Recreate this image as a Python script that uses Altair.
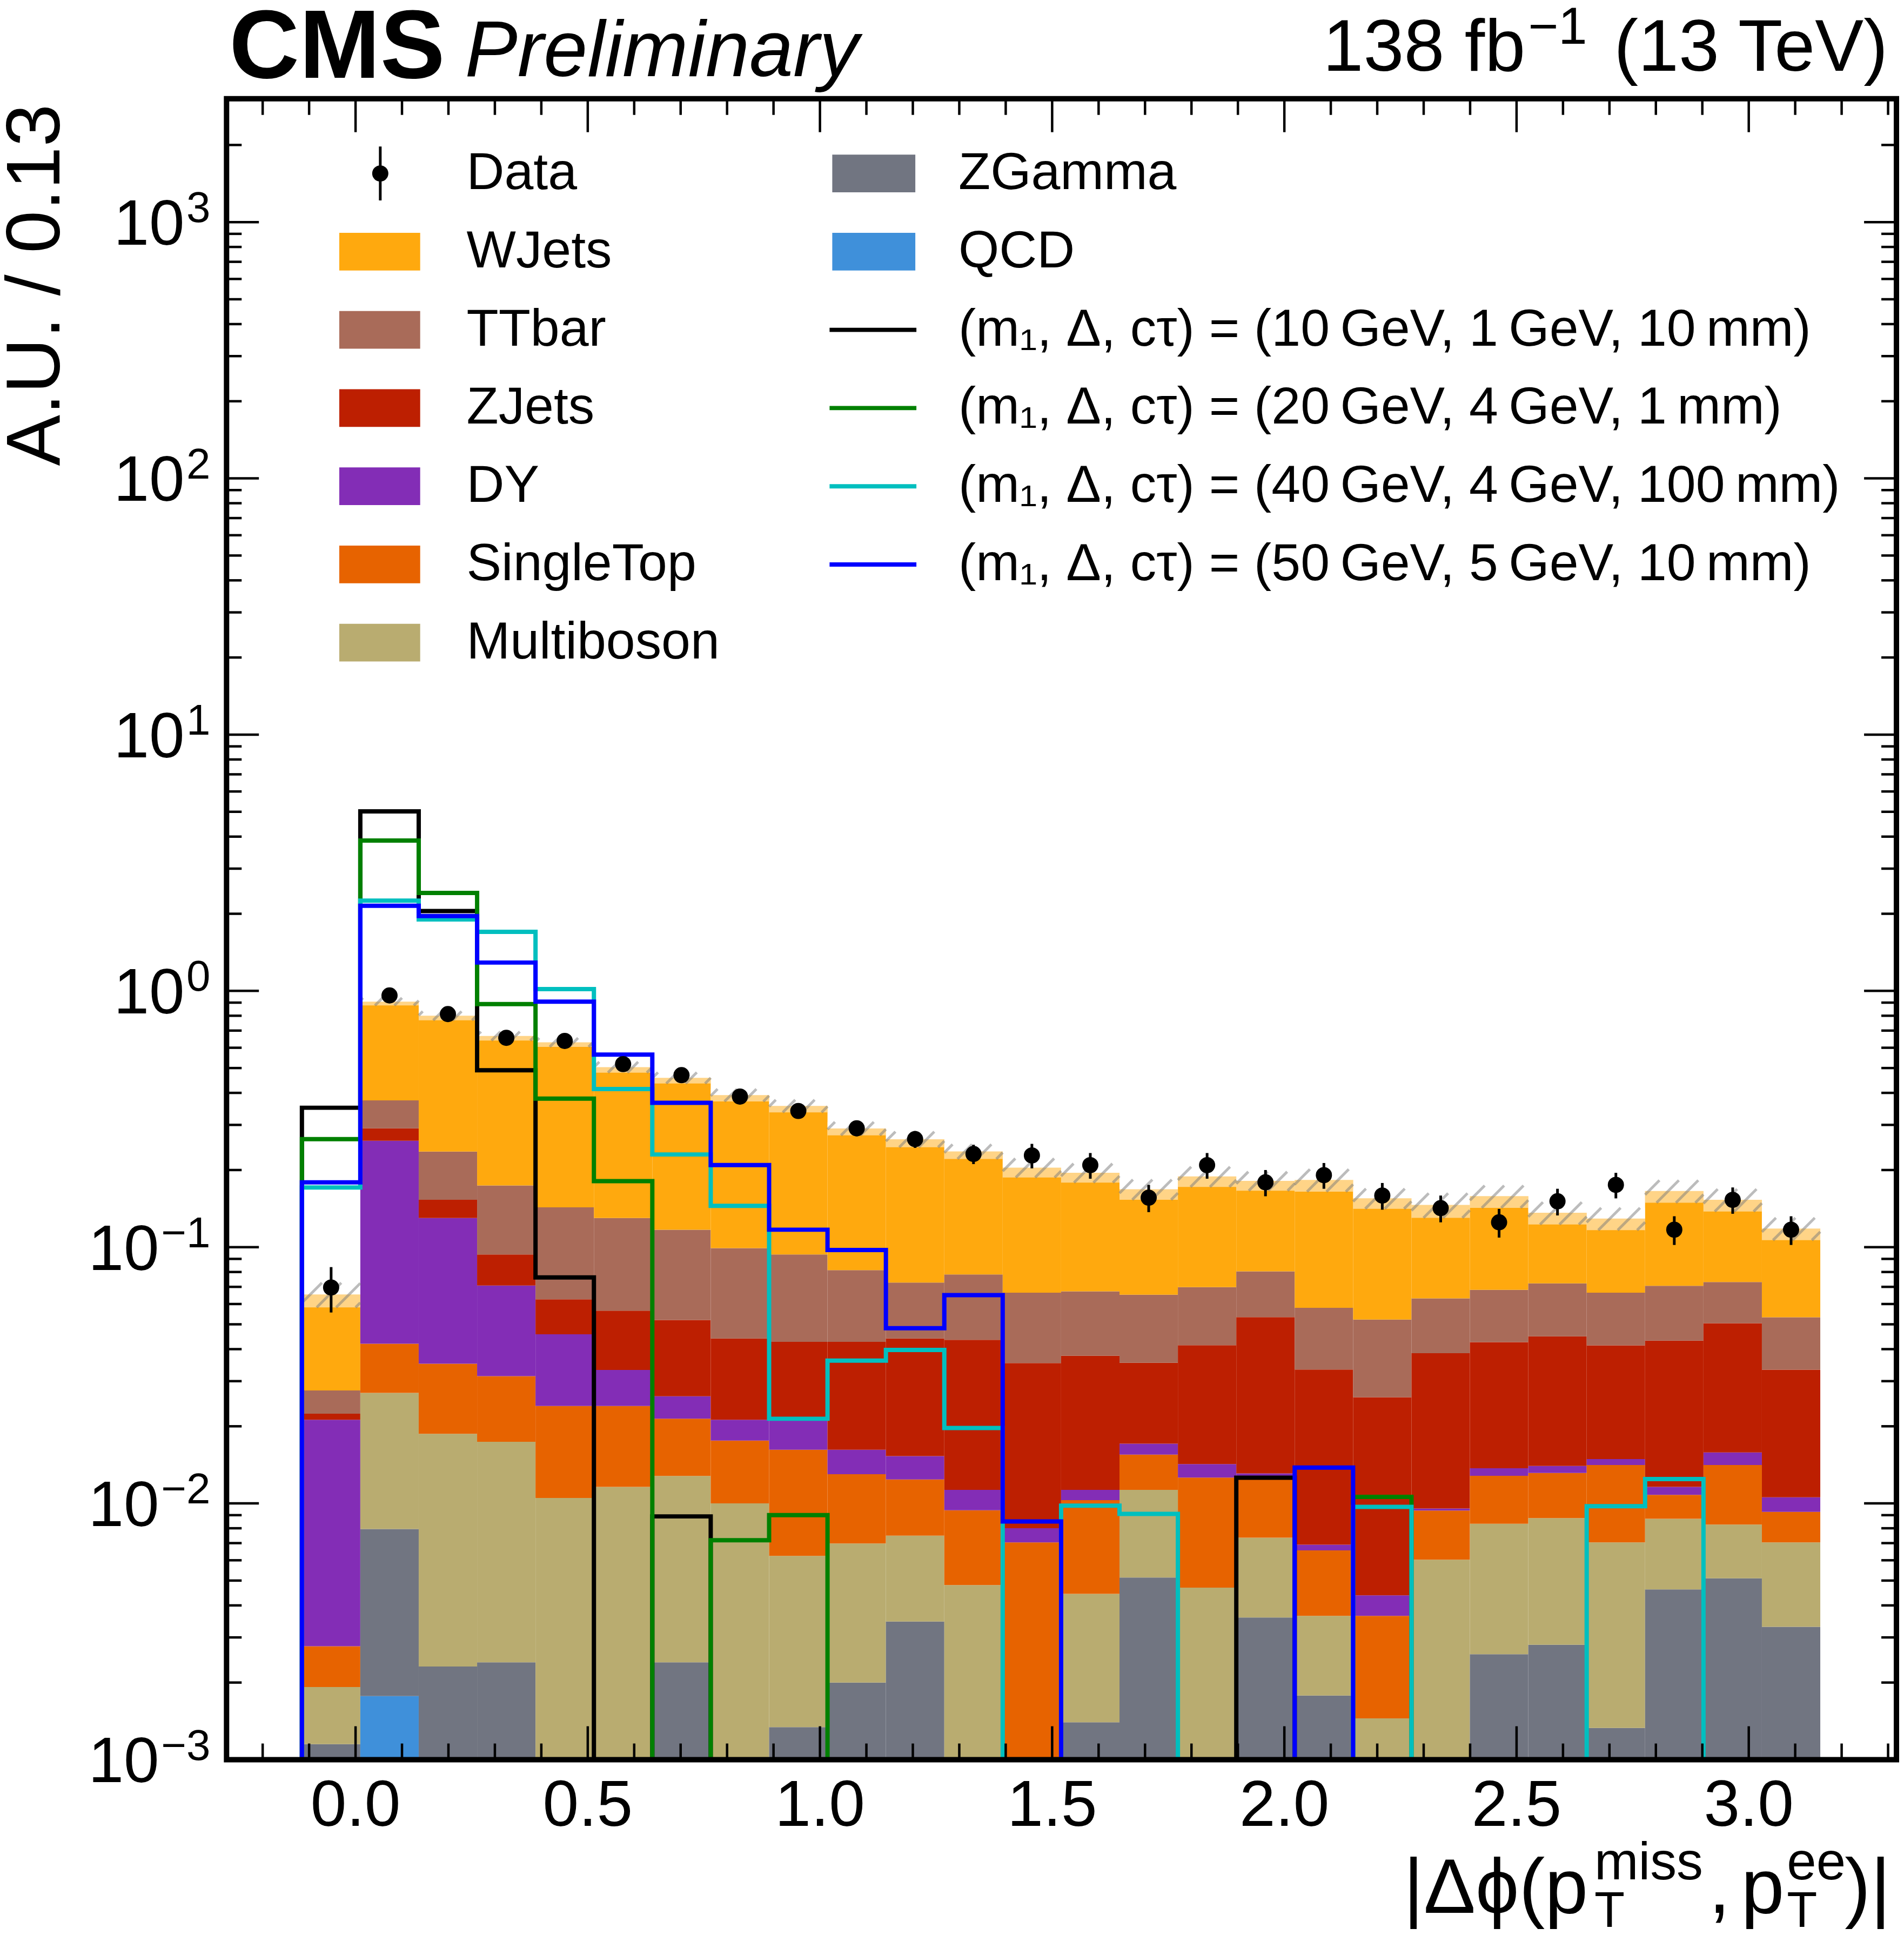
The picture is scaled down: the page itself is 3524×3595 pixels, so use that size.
import numpy as np
import pandas as pd
import altair as alt

# plot area (px) and axis ranges
W, H = 3096, 3080
XMIN, XMAX = -0.2778, 3.318
YMIN, YMAX = 1e-3, 10 ** 3.4815
FONT = "Liberation Sans"

# 26 bins of |dphi|, width ~0.13
edges = [round(-0.1155 + 0.12575 * k, 5) for k in range(27)]

# backgrounds, bottom of the stack first
qcd = [0, 0.00177] + [0] * 24
zgamma = [0.00115, 0.00618, 0.00231, 0.0024, 0, 0, 0.0024, 0, 0.00134, 0.0020, 0.00346, 0, 0,
          0.0014, 0.00514, 0, 0.00359, 0.00178, 0, 0, 0.00258, 0.00281, 0.00133, 0.00462, 0.0051, 0.0033]
multiboson = [0.00077, 0.01905, 0.01639, 0.0150, 0.0105, 0.0116, 0.0104, 0.0100, 0.0049, 0.00498, 0.00403,
              0.0048, 0, 0.00304, 0.00616, 0.00469, 0.00376, 0.00186, 0.00145, 0.00603, 0.00575, 0.00596,
              0.00572, 0.00409, 0.00317, 0.00375]
singletop = [0.00085, 0.0150, 0.0164, 0.0140, 0.0135, 0.0124, 0.0086, 0.0076, 0.00996, 0.00602, 0.00491,
             0.0046, 0.00705, 0.00586, 0.0042, 0.00793, 0.00525, 0.00292, 0.00219, 0.00335, 0.00449,
             0.00438, 0.00708, 0.00209, 0.00586, 0.00222]
dy = [0.01843, 0.218, 0.0949, 0.0394, 0.0217, 0.0092, 0.0048, 0.0036, 0.0050, 0.0032, 0.0029, 0.0019,
      0.00095, 0.0010, 0.0016, 0.00162, 0.0005, 0.00034, 0.00074, 0.00017, 0.00089, 0.00085, 0.00077,
      0.0008, 0.00167, 0.0013]
zjets = [0.0012, 0.031, 0.023, 0.0229, 0.0169, 0.0233, 0.0258, 0.0228, 0.0215, 0.0265, 0.0287, 0.0322,
         0.0273, 0.0264, 0.0183, 0.0272, 0.0402, 0.0264, 0.0216, 0.0290, 0.0289, 0.0309, 0.0265, 0.0316,
         0.0347, 0.0227]
ttbar = [0.0052, 0.083, 0.083, 0.0803, 0.0804, 0.0735, 0.065, 0.0551, 0.051, 0.0387, 0.0288, 0.0348,
         0.0311, 0.0295, 0.0298, 0.0284, 0.0272, 0.0247, 0.0262, 0.0246, 0.0255, 0.0273, 0.025, 0.0275,
         0.0226, 0.020]
wjets = [0.0378, 0.534, 0.564, 0.493, 0.487, 0.374, 0.341, 0.293, 0.262, 0.209, 0.191, 0.158, 0.138,
         0.128, 0.103, 0.119, 0.101, 0.125, 0.103, 0.083, 0.090, 0.064, 0.063, 0.095, 0.080, 0.065]
# relative MC uncertainty (hatched band)
mc_unc = [0.11, 0.034, 0.04, 0.04, 0.04, 0.048, 0.05, 0.056, 0.056, 0.06, 0.07, 0.065, 0.085, 0.085,
          0.09, 0.09, 0.085, 0.1, 0.09, 0.11, 0.1, 0.1, 0.1, 0.1, 0.1, 0.1]

data = [0.0696, 0.96, 0.812, 0.656, 0.638, 0.518, 0.469, 0.387, 0.340, 0.291, 0.264, 0.231, 0.228, 0.209,
        0.156, 0.209, 0.179, 0.191, 0.159, 0.142, 0.125, 0.151, 0.175, 0.117, 0.153, 0.117]
data_err = [0.014, 0.02, 0.02, 0.02, 0.02, 0.02, 0.02, 0.02, 0.02, 0.02, 0.02, 0.02, 0.025, 0.024, 0.019,
            0.024, 0.021, 0.022, 0.019, 0.017, 0.016, 0.018, 0.02, 0.015, 0.018, 0.015]

# signals
sig_10_1_10 = [0.35, 5.02, 2.05, 0.49, 0.0762, 0, 0.0089] + [0] * 9 + [0.0126] + [0] * 9
sig_20_4_1 = [0.264, 3.86, 2.41, 0.888, 0.380, 0.181, 0, 0.00718, 0.0090] + [0] * 9 + [0.0106] + [0] * 7
sig_40_4_100 = [0.171, 2.25, 1.90, 1.70, 1.016, 0.414, 0.230, 0.145, 0.0214, 0.0361, 0.0397, 0.0197, 0,
                0.0098, 0.0091, 0, 0, 0, 0.0097, 0, 0, 0, 0.00975, 0.01245, 0, 0]
sig_50_5_10 = [0.179, 2.15, 1.96, 1.29, 0.908, 0.564, 0.366, 0.209, 0.117, 0.0975, 0.0483, 0.065, 0.0085,
               0, 0, 0, 0, 0.0138, 0, 0, 0, 0, 0, 0, 0, 0]

procs = [("QCD", qcd, "#3f90da"), ("ZGamma", zgamma, "#717581"), ("Multiboson", multiboson, "#b9ac70"),
         ("SingleTop", singletop, "#e76300"), ("DY", dy, "#832db6"), ("ZJets", zjets, "#bd1f01"),
         ("TTbar", ttbar, "#a96b59"), ("WJets", wjets, "#ffa90e")]
sigs = [("(m\u2081, \u0394, c\u03c4) = (10\u2009GeV, 1\u2009GeV, 10\u2009mm)", sig_10_1_10, "black"),
        ("(m\u2081, \u0394, c\u03c4) = (20\u2009GeV, 4\u2009GeV, 1\u2009mm)", sig_20_4_1, "#008000"),
        ("(m\u2081, \u0394, c\u03c4) = (40\u2009GeV, 4\u2009GeV, 100\u2009mm)", sig_40_4_100, "#00bfbf"),
        ("(m\u2081, \u0394, c\u03c4) = (50\u2009GeV, 5\u2009GeV, 10\u2009mm)", sig_50_5_10, "#0000ff")]

x_major = [0.0, 0.5, 1.0, 1.5, 2.0, 2.5, 3.0]
x_labels = ["0.0", "0.5", "1.0", "1.5", "2.0", "2.5", "3.0"]
x_minor = [round(0.1 * k, 1) for k in range(-2, 34) if k % 5 != 0]
y_major = [1e-3, 1e-2, 1e-1, 1e0, 1e1, 1e2, 1e3]
y_exps = ["\u22123", "\u22122", "\u22121", "0", "1", "2", "3"]
y_minor = [m * 10.0 ** k for k in range(-3, 4) for m in range(2, 10) if m * 10.0 ** k < YMAX]

xs = alt.Scale(domain=[XMIN, XMAX], nice=False, zero=False)
ys = alt.Scale(type="log", domain=[YMIN, YMAX], nice=False)

# stacked histogram
rows = []
total = []
for i in range(26):
    cum = 0.0
    for name, vals, col in procs:
        lo = cum
        cum += vals[i]
        if vals[i] > 0:
            rows.append(dict(x0=edges[i], x1=edges[i + 1], lo=max(lo, YMIN), hi=cum, col=col))
    total.append(cum)
stack_df = pd.DataFrame(rows)

bars = alt.Chart(stack_df).mark_rect(strokeWidth=0).encode(
    x=alt.X("x0:Q", scale=xs, axis=None), x2="x1:Q",
    y=alt.Y("hi:Q", scale=ys, axis=None), y2="lo:Q",
    color=alt.Color("col:N", scale=None))

band_df = pd.DataFrame(dict(x0=edges[:-1], x1=edges[1:],
                            lo=[t * (1 - u) for t, u in zip(total, mc_unc)],
                            hi=[t * (1 + u) for t, u in zip(total, mc_unc)]))
band = alt.Chart(band_df).mark_rect(color="white", opacity=0.5).encode(
    x=alt.X("x0:Q", scale=xs, axis=None), x2="x1:Q",
    y=alt.Y("hi:Q", scale=ys, axis=None), y2="lo:Q")

# hatch lines at 45 degrees inside the band
px_unit = W / (XMAX - XMIN)
px_dec = H / np.log10(YMAX / YMIN)
step = 36 / px_unit
hrows = []
for i in range(26):
    llo, lhi = np.log10(band_df.lo[i]), np.log10(band_df.hi[i])
    dx = (lhi - llo) * px_dec / px_unit
    x0, x1 = edges[i], edges[i + 1]
    s = np.floor((x0 - dx) / step) * step
    while s < x1:
        ta = max(0.0, (x0 - s) / dx)
        tb = min(1.0, (x1 - s) / dx)
        if tb > ta:
            hrows.append(dict(xa=s + ta * dx, xb=s + tb * dx,
                              ya=10 ** (llo + ta * (lhi - llo)), yb=10 ** (llo + tb * (lhi - llo))))
        s += step
hatch = alt.Chart(pd.DataFrame(hrows)).mark_rule(color="#7a7a7a", opacity=0.5, strokeWidth=5).encode(
    x=alt.X("xa:Q", scale=xs, axis=None), x2="xb:Q",
    y=alt.Y("ya:Q", scale=ys, axis=None), y2="yb:Q")

# signal step lines
sig_layers = []
for name, vals, col in sigs:
    pts = [(edges[0], YMIN)] + [(edges[k], max(v, YMIN)) for k, v in enumerate(vals)]
    pts += [(edges[-1], max(vals[-1], YMIN)), (edges[-1], YMIN)]
    sdf = pd.DataFrame(dict(idx=range(len(pts)), x=[p[0] for p in pts], y=[p[1] for p in pts]))
    sig_layers.append(alt.Chart(sdf).mark_line(
        interpolate="step-after", strokeWidth=8, color=col, strokeJoin="miter", strokeCap="butt").encode(
        x=alt.X("x:Q", scale=xs, axis=None), y=alt.Y("y:Q", scale=ys, axis=None), order="idx:Q"))

centers = [(edges[k] + edges[k + 1]) / 2 for k in range(26)]
data_df = pd.DataFrame(dict(x=centers, y=data,
                            lo=[d - e for d, e in zip(data, data_err)],
                            hi=[d + e for d, e in zip(data, data_err)]))
errs = alt.Chart(data_df).mark_rule(color="black", strokeWidth=5).encode(
    x=alt.X("x:Q", scale=xs, axis=None), y=alt.Y("lo:Q", scale=ys, axis=None), y2="hi:Q")
dots = alt.Chart(data_df).mark_circle(size=900, color="black", opacity=1).encode(
    x=alt.X("x:Q", scale=xs, axis=None), y=alt.Y("y:Q", scale=ys, axis=None))


# inward ticks on all four sides
def xticks(vals, length):
    d = alt.Chart(pd.DataFrame({"v": vals}))
    m = dict(color="black", strokeWidth=4.5)
    xe = alt.X("v:Q", scale=xs, axis=None)
    return [d.mark_rule(**m).encode(x=xe, y=alt.value(H), y2=alt.value(H - length)),
            d.mark_rule(**m).encode(x=xe, y=alt.value(0), y2=alt.value(length))]


def yticks(vals, length):
    d = alt.Chart(pd.DataFrame({"v": vals}))
    m = dict(color="black", strokeWidth=4.5)
    ye = alt.Y("v:Q", scale=ys, axis=None)
    return [d.mark_rule(**m).encode(y=ye, x=alt.value(0), x2=alt.value(length)),
            d.mark_rule(**m).encode(y=ye, x=alt.value(W), x2=alt.value(W - length))]


ticks = xticks(x_major, 62) + xticks(x_minor, 30) + yticks(y_major, 60) + yticks(y_minor, 28)

frame = alt.Chart(pd.DataFrame({"a": [0]})).mark_rect(
    fillOpacity=0, stroke="black", strokeWidth=10).encode(
    x=alt.value(0), x2=alt.value(W), y=alt.value(0), y2=alt.value(H))

# tick labels
xlab = alt.Chart(pd.DataFrame({"v": x_major, "t": x_labels})).mark_text(
    font=FONT, fontSize=120, align="center", baseline="alphabetic").encode(
    x=alt.X("v:Q", scale=xs, axis=None), y=alt.value(3203), text="t:N")

ylab_df = pd.DataFrame({"v": y_major, "e": y_exps})
neg = ylab_df[ylab_df.e.str.startswith("\u2212")]
pos = ylab_df[~ylab_df.e.str.startswith("\u2212")]
ylabs = []
for sub, off in [(neg, -125), (pos, -78)]:
    ylabs.append(alt.Chart(sub).mark_text(font=FONT, fontSize=118, align="right", baseline="alphabetic",
                                          dy=42, dx=off, text="10").encode(
        y=alt.Y("v:Q", scale=ys, axis=None), x=alt.value(0)))
ylabs.append(alt.Chart(ylab_df).mark_text(font=FONT, fontSize=80, align="right", baseline="alphabetic",
                                          dx=-30).encode(
    y=alt.Y("v:Q", scale=ys, axis=None), x=alt.value(0), text="e:N"))

# axis titles and header
one = pd.DataFrame({"a": [0]})
ytitle = alt.Chart(one).mark_text(font=FONT, fontSize=142, angle=270, align="right", baseline="alphabetic",
                                  text="A.U. / 0.13").encode(x=alt.value(-310), y=alt.value(10))

xt = pd.DataFrame([
    ("|\u0394\u03d5(p", 2182, 3364, 144), ("miss", 2536, 3302, 98), ("T", 2536, 3390, 92),
    (",", 2748, 3364, 144), ("p", 2808, 3364, 144), ("ee", 2893, 3302, 98), ("T", 2893, 3390, 92),
    (")|", 3000, 3364, 144)], columns=["t", "px", "py", "fs"])
xtitle = alt.Chart(xt).mark_text(font=FONT, align="left", baseline="alphabetic").encode(
    x=alt.X("px:Q", scale=None), y=alt.Y("py:Q", scale=None), size=alt.Size("fs:Q", scale=None), text="t:N")

cms = alt.Chart(one).mark_text(font=FONT, fontSize=180, fontWeight="bold", align="left",
                               baseline="alphabetic", text="CMS").encode(x=alt.value(5), y=alt.value(-39))
prelim = alt.Chart(one).mark_text(font=FONT, fontSize=146, fontStyle="italic", align="left",
                                  baseline="alphabetic", text="Preliminary").encode(
    x=alt.value(442), y=alt.value(-42))
lumi1 = alt.Chart(one).mark_text(font=FONT, fontSize=135, align="right", baseline="alphabetic",
                                 text="138 fb").encode(x=alt.value(2408), y=alt.value(-52))
lumi2 = alt.Chart(one).mark_text(font=FONT, fontSize=96, align="left", baseline="alphabetic",
                                 text="\u22121").encode(x=alt.value(2413), y=alt.value(-102))
lumi3 = alt.Chart(one).mark_text(font=FONT, fontSize=135, align="right", baseline="alphabetic",
                                 text="(13 TeV)").encode(x=alt.value(3080), y=alt.value(-52))

# legend, two columns
ROW0, ROWSTEP = 138.6, 145
leg = []
for r, (name, vals, col) in enumerate(reversed(procs[2:]), start=1):
    leg.append(dict(kind="patch", label=name, col=col, x0=209, x1=359, yc=ROW0 + ROWSTEP * r, lx=445))
for r, (name, vals, col) in enumerate([procs[1], procs[0]]):
    leg.append(dict(kind="patch", label=name, col=col, x0=1123, x1=1277, yc=ROW0 + ROWSTEP * r, lx=1357))
for r, (name, vals, col) in enumerate(sigs, start=2):
    leg.append(dict(kind="line", label=name, col=col, x0=1118, x1=1279, yc=ROW0 + ROWSTEP * r, lx=1357))
leg.append(dict(kind="data", label="Data", col="black", x0=285, x1=285, yc=ROW0, lx=445))
leg_df = pd.DataFrame(leg)
leg_df["y0"] = leg_df.yc - 35
leg_df["y1"] = leg_df.yc + 35
leg_df["ly"] = leg_df.yc + 29
leg_df["eb0"] = leg_df.yc - 50
leg_df["eb1"] = leg_df.yc + 50

px = lambda f: alt.X(f + ":Q", scale=None)
py = lambda f: alt.Y(f + ":Q", scale=None)
lg_patch = alt.Chart(leg_df[leg_df.kind == "patch"]).mark_rect().encode(
    x=px("x0"), x2="x1:Q", y=py("y0"), y2="y1:Q", color=alt.Color("col:N", scale=None))
lg_line = alt.Chart(leg_df[leg_df.kind == "line"]).mark_rule(strokeWidth=8).encode(
    x=px("x0"), x2="x1:Q", y=py("yc"), color=alt.Color("col:N", scale=None))
lg_dot = alt.Chart(leg_df[leg_df.kind == "data"]).mark_circle(size=900, color="black", opacity=1).encode(
    x=px("x0"), y=py("yc"))
lg_err = alt.Chart(leg_df[leg_df.kind == "data"]).mark_rule(strokeWidth=5, color="black").encode(
    x=px("x0"), y=py("eb0"), y2="eb1:Q")
lg_text = alt.Chart(leg_df).mark_text(font=FONT, fontSize=97, align="left", baseline="alphabetic").encode(
    x=px("lx"), y=py("ly"), text="label:N")

layers = [bars, band, hatch] + sig_layers + [errs, dots] + ticks + [frame, xlab] + ylabs + \
         [ytitle, xtitle, cms, prelim, lumi1, lumi2, lumi3, lg_patch, lg_line, lg_err, lg_dot, lg_text]

chart = alt.layer(*layers).properties(
    width=W, height=H,
    autosize=alt.AutoSizeParams(type="none"),
    padding={"left": 412, "top": 172, "right": 6, "bottom": 326},
).configure_view(stroke=None)

chart.save("out.html", embed_options={"renderer": "svg", "actions": False})
